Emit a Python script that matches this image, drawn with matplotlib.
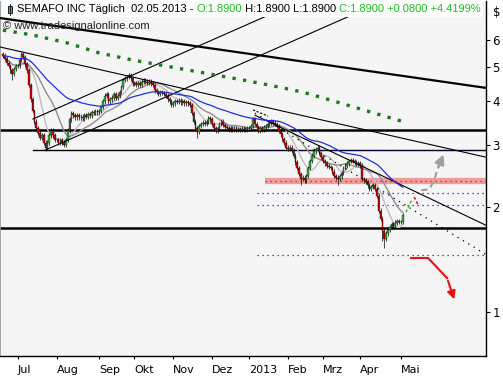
"""
SEMAFO INC daily candles with trend drawings
"""

import matplotlib.pyplot as plt
import numpy as np
import pandas as pd
from matplotlib.patches import Rectangle
from matplotlib.ticker import FixedLocator, NullLocator, FixedFormatter

# daily closes, one list per month
close_jun = [5.40, 5.30, 5.15, 5.05, 4.90, 4.80, 4.95, 5.05]
close_jul = [5.05, 5.25, 5.45, 5.35, 5.10, 4.90, 4.45, 4.05, 3.75, 3.50, 3.35,
             3.25, 3.15, 3.20, 3.05, 2.95, 3.05, 3.20, 3.30, 3.20, 3.10]
close_aug = [3.10, 3.05, 3.10, 3.05, 3.00, 3.10, 3.30, 3.55, 3.70, 3.65, 3.60, 3.65,
             3.60, 3.62, 3.58, 3.65, 3.62, 3.68, 3.65, 3.72, 3.70, 3.75, 3.72]
close_sep = [3.75, 3.85, 4.00, 4.15, 4.20, 4.00, 4.05, 4.10, 4.20, 4.10, 4.15, 4.25,
             4.40, 4.60, 4.65, 4.70, 4.75, 4.65, 4.50]
close_okt = [4.50, 4.45, 4.50, 4.45, 4.55, 4.58, 4.55, 4.52, 4.55, 4.50, 4.45, 4.30,
             4.25, 4.20, 4.25, 4.22, 4.20, 4.15, 4.05, 4.00, 3.90]
close_nov = [3.95, 4.00, 3.98, 4.02, 3.97, 4.00, 3.95, 3.98, 3.95, 3.90, 3.70, 3.50,
             3.35, 3.28, 3.40, 3.45, 3.48, 3.45, 3.50, 3.58, 3.55]
close_dez = [3.45, 3.35, 3.30, 3.35, 3.45, 3.50, 3.42, 3.38, 3.35, 3.33, 3.35, 3.32,
             3.34, 3.31, 3.33, 3.32, 3.34, 3.32, 3.33, 3.35]
close_jan = [3.35, 3.40, 3.55, 3.45, 3.38, 3.30, 3.35, 3.32, 3.38, 3.40, 3.45, 3.48,
             3.52, 3.48, 3.45, 3.40, 3.30, 3.22, 3.12, 3.05, 2.95]
close_feb = [2.92, 2.95, 2.90, 2.80, 2.68, 2.58, 2.48, 2.40, 2.42, 2.38, 2.45, 2.58,
             2.70, 2.80, 2.88, 2.92, 2.95, 2.85, 2.78]
close_mrz = [2.70, 2.66, 2.62, 2.60, 2.58, 2.52, 2.45, 2.42, 2.40, 2.44, 2.50, 2.58,
             2.62, 2.66, 2.70, 2.72, 2.70, 2.68, 2.65, 2.66]
close_apr = [2.62, 2.40, 2.38, 2.35, 2.30, 2.25, 2.28, 2.30, 2.25, 2.15, 1.95, 1.85,
             1.70, 1.62, 1.68, 1.72, 1.75, 1.78, 1.76, 1.80, 1.82, 1.81]
close_mai = [1.81, 1.89]
first_open = 5.45

month_labels = ['Jun', 'Jul', 'Aug', 'Sep', 'Okt', 'Nov', 'Dez', '2013', 'Feb', 'Mrz', 'Apr', 'Mai']
closes_by_month = [close_jun, close_jul, close_aug, close_sep, close_okt, close_nov,
                   close_dez, close_jan, close_feb, close_mrz, close_apr, close_mai]

# longer wicks (bar index -> low)
wick_lows = {5: 4.60, 23: 2.88, 105: 3.15, 161: 2.30, 181: 2.30, 205: 1.60, 206: 1.52}

# green dotted long average, read at a few bars
ma_long_idx = [0, 16, 35, 52, 70, 130, 144, 162, 173, 217]
ma_long_val = [6.39, 6.19, 5.87, 5.50, 5.25, 4.60, 4.45, 4.25, 4.09, 3.49]

y_ticks = [1, 2, 3, 4, 5, 6]

red = '#e00000'
green = '#2fb52f'

close = np.concatenate(closes_by_month)
opn = np.r_[first_open, close[:-1]]
hi = np.maximum(opn, close) * 1.015
lo = np.minimum(opn, close) * 0.985
for k, v in wick_lows.items():
    lo[k] = v
x = np.arange(len(close))
month_start = np.cumsum([0] + [len(m) for m in closes_by_month])[:-1]

s = pd.Series(close)
ma_fast = s.rolling(10, min_periods=1).mean()
ma_mid = s.rolling(20, min_periods=1).mean()
ma_slow = s.ewm(span=50, adjust=False).mean()

fig = plt.figure(figsize=(5.03, 3.80), dpi=100)
fig.patch.set_facecolor('white')
ax = fig.add_axes([0.0, 24 / 380, 486 / 503, 355 / 380])
ax.set_facecolor('#f5f5f5')
ax.set_yscale('log')
ax.set_xlim(-1.6, 261)
ax.set_ylim(0.749, 7.74)

# horizontal levels
ax.plot([-1.6, 261], [3.31, 3.31], color='black', lw=1.8, zorder=2)
ax.plot([-1.6, 261], [1.74, 1.74], color='black', lw=1.8, zorder=2)
ax.plot([16.2, 261], [2.90, 2.90], color='black', lw=1.0, zorder=2)
ax.plot([141.6, 261], [2.37, 2.37], color='#f39a9a', lw=4.5, solid_capstyle='butt', zorder=2)
ax.plot([141.6, 261], [2.37, 2.37], color='#d01010', lw=0.9, ls=(0, (1, 3)), zorder=2)
for lvl in [2.90, 2.19, 2.02, 1.455]:
    ax.plot([137, 261], [lvl, lvl], color='#1a1acc', lw=0.9, ls=(0, (1, 3)), zorder=2)

# trend lines
ax.plot([-1.6, 261], [6.92, 4.37], color='black', lw=1.6, zorder=5)
ax.plot([-1.6, 261], [5.72, 2.77], color='black', lw=0.8, zorder=5)
ax.plot([16.2, 162], [3.56, 7.79], color='black', lw=0.8, zorder=5)
ax.plot([22.7, 207], [2.90, 7.79], color='black', lw=0.8, zorder=5)
ax.plot([136.2, 261], [3.65, 1.77], color='black', lw=0.8, zorder=5)
ax.plot([136.2, 261], [3.70, 1.46], color='black', lw=0.9, ls=(0, (1, 4)), zorder=5)
ax.plot([135.1, 143.2], [3.78, 3.63], color='black', lw=0.8, ls=(0, (2, 1.5)), zorder=5)

# long average, green squares
ax.plot(ma_long_idx, ma_long_val, color='#1c7a1c', lw=2.4, ls=(0, (1, 2.2)), zorder=5)

# moving averages
ax.plot(x, ma_fast, color='#bdbdbd', lw=1.0, zorder=3)
ax.plot(x, ma_mid, color='#8f8f8f', lw=1.0, zorder=3)
ax.plot(x, ma_slow, color='#1f2fe0', lw=0.9, zorder=6)

# candles
colors = np.where(close >= opn, green, red)
ax.vlines(x, lo, hi, color='black', lw=0.5, zorder=4)
ax.bar(x, close - opn, bottom=opn, width=0.9, color=colors,
       edgecolor='black', linewidth=0.25, zorder=4)

# forecast sketch
ax.plot([217.8, 219.5, 221.1], [1.93, 2.02, 2.10], color='#2fb52f', lw=1.0, ls=(0, (2, 1.5)), zorder=6)
ax.plot([222.2, 223.3, 224.3], [2.13, 2.08, 2.02], color=red, lw=1.0, ls=(0, (2, 1.5)), zorder=6)
ax.plot([226, 230.3, 233, 234.6], [2.23, 2.24, 2.38, 2.545], color='#a0a0a0', lw=1.5,
        ls=(0, (3, 2)), zorder=6)
ax.annotate('', xy=(238.6, 2.87), xytext=(234.6, 2.545),
            arrowprops=dict(arrowstyle='-|>', color='#a0a0a0', lw=1.8, mutation_scale=14), zorder=6)
ax.plot([220.5, 229.7, 240], [1.427, 1.427, 1.25], color='#e81010', lw=1.5, zorder=6)
ax.annotate('', xy=(244.3, 1.068), xytext=(240, 1.25),
            arrowprops=dict(arrowstyle='-|>', color='#e81010', lw=1.5, mutation_scale=12), zorder=6)

# axes
ax.yaxis.tick_right()
ax.yaxis.set_major_locator(FixedLocator(y_ticks))
ax.yaxis.set_major_formatter(FixedFormatter([str(t) for t in y_ticks]))
ax.yaxis.set_minor_locator(NullLocator())
ax.tick_params(axis='y', direction='out', length=3, pad=1.5, labelsize=8.5, width=0.8)
ax.set_xticks(month_start[1:])
ax.set_xticklabels(month_labels[1:])
ax.tick_params(axis='x', direction='out', length=2.5, pad=4, labelsize=8, width=0.8)
for lbl in ax.get_xticklabels():
    lbl.set_ha('left')
for side in ['right', 'bottom']:
    ax.spines[side].set_linewidth(1.0)
ax.spines['left'].set_color('#999999')
ax.spines['left'].set_linewidth(0.6)
ax.spines['top'].set_visible(False)
fig.text(497 / 503, 1 - 12 / 380, '$', ha='center', va='center', fontsize=8.5)

# title box
ax.add_patch(Rectangle((2 / 486, 1 - 16 / 355), 480 / 486, 16 / 355, transform=ax.transAxes,
                       facecolor='#fcfcfc', edgecolor='none', zorder=8))
ax.add_patch(Rectangle((8 / 486, 1 - 12 / 355), 4 / 486, 7 / 355, transform=ax.transAxes,
                       facecolor='#33cc33', edgecolor='black', lw=0.6, zorder=9))
ax.plot([10 / 486, 10 / 486], [1 - 14 / 355, 1 - 3 / 355], transform=ax.transAxes,
        color='black', lw=0.6, zorder=9)
parts = [('SEMAFO INC Täglich  02.05.2013 - ', 'black'), ('O:1.8900', '#1fc01f'),
         (' H:1.8900 L:1.8900 ', 'black'), ('C:1.8900 +0.0800 +4.4199%', '#1fc01f')]
t = ax.text(17 / 486, 1 - 8.5 / 355, parts[0][0], transform=ax.transAxes, va='center',
            ha='left', fontsize=8, color=parts[0][1], family='Liberation Sans', zorder=10)
for txt, col in parts[1:]:
    t = ax.annotate(txt, xy=(1, 0), xycoords=t, va='bottom', ha='left', fontsize=8,
                    color=col, family='Liberation Sans', zorder=10)
ax.text(3 / 486, 1 - 25 / 355, '© www.tradesignalonline.com', transform=ax.transAxes,
        va='center', ha='left', fontsize=8, color='#222222', family='Liberation Sans', zorder=10)

plt.savefig('out.png', dpi=100)
plt.close()
